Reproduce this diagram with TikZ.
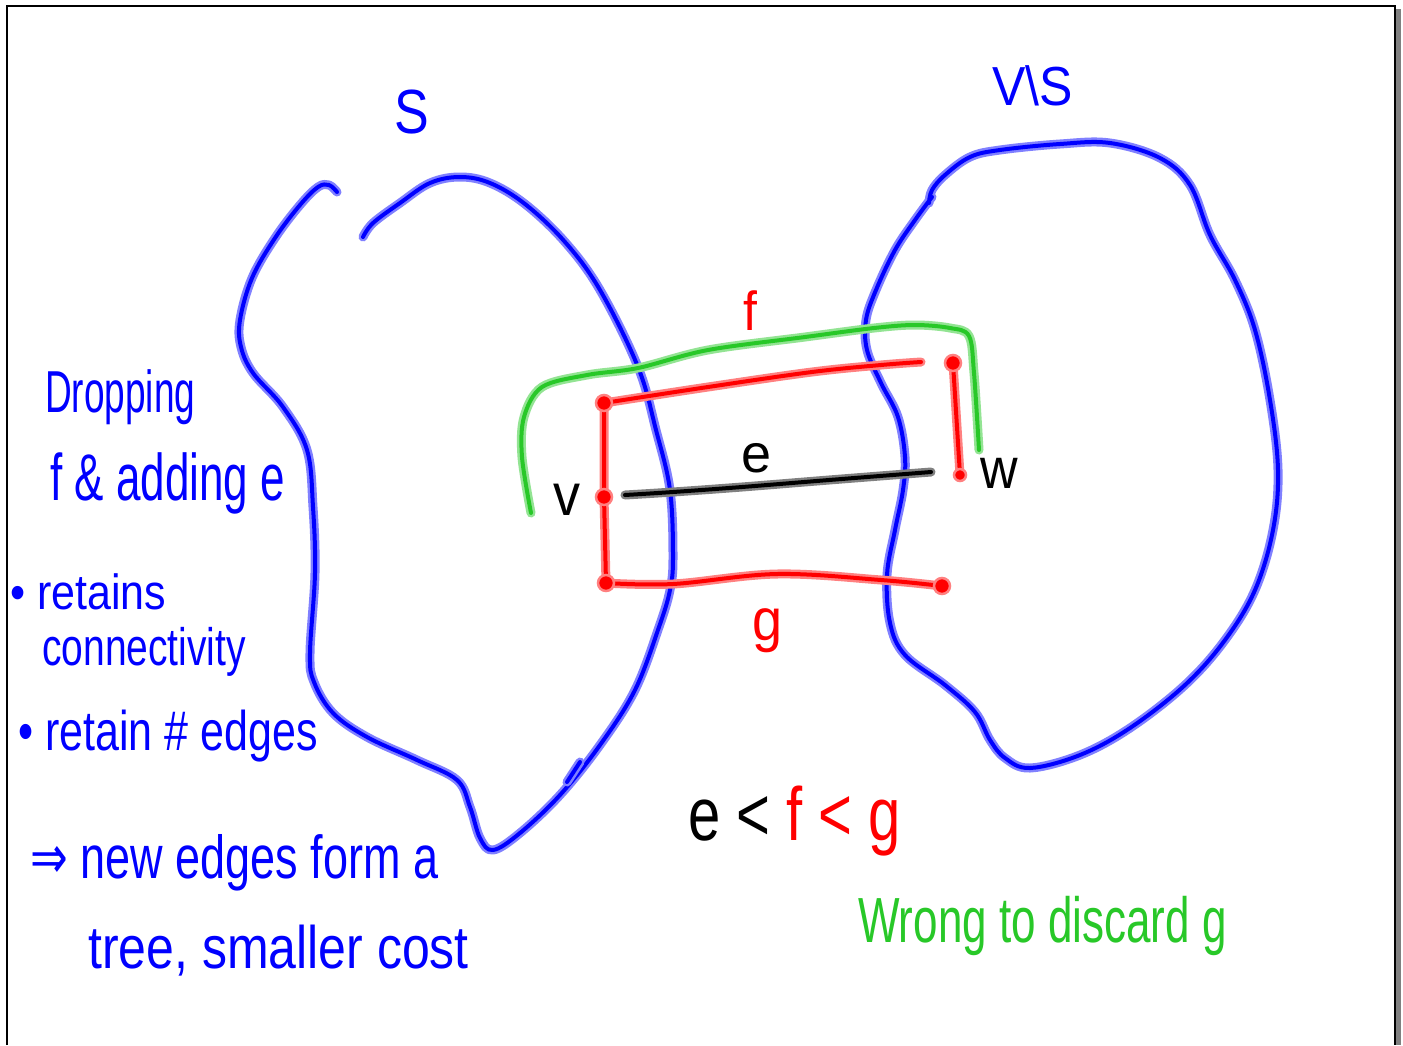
\documentclass[tikz,border=0pt]{standalone}
\usepackage{fontspec}
\setmainfont{Liberation Sans}
\newfontfamily\arrowfont{DejaVu Sans}
\definecolor{pblue}{RGB}{0,0,255}
\definecolor{pred}{RGB}{255,0,0}
\definecolor{pgreen}{RGB}{40,200,40}
\tikzset{
  ink/.style={line width=4pt, line cap=round, line join=round, draw=#1,
    preaction={draw=#1!50, line width=9pt, line cap=round, line join=round}},
  bink/.style={ink=pblue},
  rink/.style={ink=pred},
  gink/.style={ink=pgreen},
  kink/.style={line width=4pt, line cap=round, line join=round, draw=black,
    preaction={draw=black!50, line width=9pt, line cap=round, line join=round}},
  rdot/.style={circle, fill=pred, draw=pred!50, line width=2.5pt, minimum size=16pt, inner sep=0pt},
  hw/.style={anchor=base west, inner sep=0pt},
  lbl/.style={anchor=base, inner sep=0pt},
}
\newcommand{\fs}[1]{\fontsize{#1}{#1}\selectfont}
\newcommand{\tall}[2]{\scalebox{1}[#1]{#2}}
\begin{document}
\begin{tikzpicture}[x=1pt,y=-1pt]
\useasboundingbox (0,0) rectangle (1403,1045);
\fill[white] (0,0) rectangle (1403,1045);
% frame
\fill[black!50] (1396,9) rectangle (1401,1045);
\draw[line width=2.5pt] (7,1045) -- (7,6) -- (1395,6) -- (1395,1045);

% set S
\draw[bink] plot[smooth, tension=0.6] coordinates {(337,192) (329,185) (318,187) (300,205) (275,238) (252,278) (240,320) (241,347) (253,373) (283,407) (307,450) (313,507) (315,573) (310,653) (314,682) (333,713) (367,737) (417,760) (457,780) (470,807) (480,838) (493,850) (520,833) (560,795) (600,745) (635,690) (659,627) (670,590) (673,557) (670,490) (656,430) (638,367) (600,290) (565,242) (525,204) (490,183) (460,177) (430,183) (400,203) (373,223) (363,237)};
\draw[bink] (580,762) -- (567,782);

% set V\S
\draw[bink] plot[smooth, tension=0.6] coordinates {(929,203) (932,190) (945,175) (970,157) (1000,150) (1060,144) (1110,143) (1160,158) (1190,185) (1210,235) (1235,280) (1255,330) (1270,400) (1278,470) (1273,530) (1255,590) (1225,640) (1185,685) (1130,728) (1080,755) (1030,768) (1005,758) (990,740) (975,712) (945,685) (905,655) (890,623) (887,575) (895,530) (903,490) (905,457) (898,417) (881,383) (867,350) (866,320) (876,290) (895,250) (915,220) (932,197)};

% positions
\coordinate (tl) at (604,403);
\coordinate (vd) at (604,497);
\coordinate (bl) at (606,583);
\coordinate (tlend) at (921,362);
\coordinate (tr) at (953,363);
\coordinate (wd) at (960,475);
\coordinate (br) at (942,586);
\coordinate (eL) at (625,495);
\coordinate (eR) at (931,472);
\coordinate (gS) at (531,513);
\coordinate (gE) at (979,450);

% green path
\draw[gink] plot[smooth, tension=0.55] coordinates {(gS) (522,457) (524,417) (542,387) (587,375) (638,368) (708,350) (805,337) (874,328) (915,325) (950,328) (969,336) (974,373) (gE)};

% red edges
\draw[rink] (tl) -- (vd) -- (bl);
\draw[rink] plot[smooth, tension=0.6] coordinates {(tl) (708,387) (812,372) (881,365) (tlend)};
\draw[rink] (tr) -- (wd);
\draw[rink] plot[smooth, tension=0.6] coordinates {(bl) (673,584) (777,574) (881,580) (br)};

% black edge e
\draw[kink] plot[smooth, tension=0.6] coordinates {(eL) (673,492) (742,487) (829,480) (eR)};

% dots
\node[rdot] (ntl) at (tl) {};
\node[rdot] (nvd) at (vd) {};
\node[rdot] (nbl) at (bl) {};
\node[rdot] (ntr) at (tr) {};
\node[rdot, minimum size=12pt] (nwd) at (wd) {};
\node[rdot] (nbr) at (br) {};

% labels
\node[lbl, text=pblue] (lS) at (412,133) {\fs{52}\tall{1.2}{S}};
\node[hw, text=pblue] (lVS) at (992,105) {\fs{50}\tall{1.1}{V\textbackslash S}};
\node[lbl, text=pred] (lf) at (750,330) {\fs{50}\tall{1.1}{f}};
\node[lbl, text=black] (le) at (757,472) {\fs{54}e};
\node[lbl, text=black] (lv) at (567,515) {\fs{54}\tall{1.1}{v}};
\node[lbl, text=black] (lw) at (999,488) {\fs{52}\tall{1.1}{w}};
\node[lbl, text=pred] (lg) at (768,640) {\fs{54}\tall{1.1}{g}};

% left notes
\node[hw, text=pblue] (t1) at (45,412) {\fs{37}\tall{1.6}{Dropping}};
\node[hw, text=pblue] (t2) at (50,500) {\fs{44}\tall{1.5}{f \& adding e}};
\node[hw, text=pblue] (t3) at (10,609) {\fs{43}\tall{1.15}{\textbullet\ retains}};
\node[hw, text=pblue] (t4) at (42,665) {\fs{39}\tall{1.35}{connectivity}};
\node[hw, text=pblue] (t5) at (18,750) {\fs{43}\tall{1.3}{\textbullet\ retain \# edges}};
\node[hw, text=pblue] (t6) at (30,878) {\fs{45}\tall{1.35}{{\arrowfont ⇒} new edges form a}};
\node[hw, text=pblue] (t7) at (88,968) {\fs{50}\tall{1.2}{tree, smaller cost}};

% bottom notes
\node[hw, text=black] (ineq) at (688,840) {\fs{58}\tall{1.3}{e < \textcolor{pred}{f < g}}};
\node[hw, text=pgreen] (wrong) at (858,942) {\fs{44}\tall{1.45}{Wrong to discard g}};
\end{tikzpicture}
\end{document}
